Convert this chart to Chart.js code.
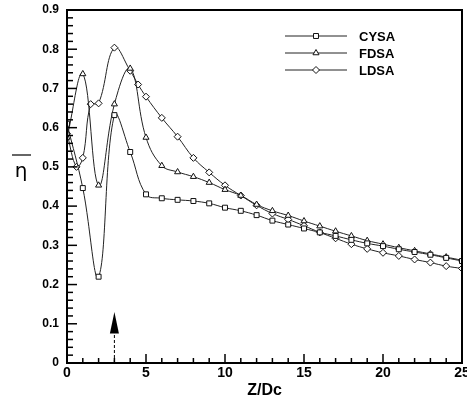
<!DOCTYPE html>
<html lang="en">
<head>
<meta charset="UTF-8">
<title>Eta vs Z/Dc</title>
<style>
  html, body { margin: 0; padding: 0; background: #ffffff; }
  .chart-box { width: 467px; height: 400px; position: relative; }
</style>
<script src="https://cdn.jsdelivr.net/npm/chart.js"></script>
</head>
<body>
<div class="chart-box"><canvas id="etaChart"></canvas></div>
<script>
// data
const cysaX = [0,1,2,3,4,5,6,7,8,9,10,11,12,13,14,15,16,17,18,19,20,21,22,23,24,25];
const cysaY = [0.61,0.446,0.22,0.632,0.538,0.43,0.42,0.416,0.413,0.407,0.396,0.388,0.377,0.363,0.353,0.343,0.333,0.324,0.314,0.305,0.298,0.290,0.283,0.276,0.268,0.26];

const fdsaX = [0,1,2,3,4,5,6,7,8,9,10,11,12,13,14,15,16,17,18,19,20,21,22,23,24,25];
const fdsaY = [0.575,0.737,0.453,0.66,0.751,0.575,0.503,0.487,0.475,0.46,0.442,0.427,0.404,0.388,0.376,0.362,0.349,0.336,0.324,0.312,0.303,0.294,0.286,0.278,0.270,0.262];

const ldsaX = [0,0.6,1,1.5,2,3,4,4.5,5,6,7,8,9,10,11,12,13,14,15,16,17,18,19,20,21,22,23,24,25];
const ldsaY = [0.585,0.50,0.523,0.66,0.662,0.804,0.745,0.71,0.679,0.625,0.577,0.523,0.486,0.453,0.427,0.402,0.381,0.366,0.350,0.333,0.318,0.303,0.291,0.281,0.273,0.264,0.256,0.247,0.241];

const seriesNames = ['CYSA', 'FDSA', 'LDSA'];
const seriesMarkers = ['rect', 'triangle', 'rectRot'];

const xTicks = [0, 5, 10, 15, 20, 25];
const yTicks = [0, 0.1, 0.2, 0.3, 0.4, 0.5, 0.6, 0.7, 0.8, 0.9];

// arrow at the bottom (x position, head tip, head base)
const arrowX = 3;
const arrowTip = 0.13;
const arrowBase = 0.075;

function toPoints(xs, ys) {
  return xs.map((x, i) => ({ x: x, y: ys[i] }));
}

function makeSet(i, xs, ys) {
  return {
    label: seriesNames[i],
    data: toPoints(xs, ys),
    showLine: true,
    borderColor: '#222',
    borderWidth: 1,
    tension: 0.4,
    pointStyle: seriesMarkers[i],
    pointRadius: 3.5,
    pointBorderWidth: 1,
    pointBorderColor: '#111',
    pointBackgroundColor: '#fff'
  };
}

// frame, inward ticks, arrow, legend and y title
const decorPlugin = {
  id: 'decor',
  afterDraw(chart) {
    const ctx = chart.ctx;
    const xs = chart.scales.x, ys = chart.scales.y;
    const a = chart.chartArea;
    ctx.save();
    ctx.strokeStyle = '#000';

    // ticks
    ctx.lineWidth = 1.5;
    for (let v = 0; v <= 25; v++) {
      const px = xs.getPixelForValue(v);
      const len = (v % 5 === 0) ? 9 : 5;
      ctx.beginPath();
      ctx.moveTo(px, a.bottom);
      ctx.lineTo(px, a.bottom - len);
      ctx.stroke();
    }
    for (let k = 0; k <= 45; k++) {
      const v = k * 0.02;
      const py = ys.getPixelForValue(v);
      const len = (k % 5 === 0) ? 10 : 6;
      ctx.beginPath();
      ctx.moveTo(a.left, py);
      ctx.lineTo(a.left + len, py);
      ctx.stroke();
    }

    // frame
    ctx.lineWidth = 2;
    ctx.strokeRect(a.left, a.top, a.right - a.left, a.bottom - a.top);

    // arrow
    const ax = xs.getPixelForValue(arrowX);
    const tipY = ys.getPixelForValue(arrowTip);
    const baseY = ys.getPixelForValue(arrowBase);
    ctx.lineWidth = 1;
    ctx.setLineDash([3, 2]);
    ctx.beginPath();
    ctx.moveTo(ax, a.bottom);
    ctx.lineTo(ax, baseY);
    ctx.stroke();
    ctx.setLineDash([]);
    ctx.fillStyle = '#000';
    ctx.beginPath();
    ctx.moveTo(ax, tipY);
    ctx.lineTo(ax - 4.5, baseY);
    ctx.lineTo(ax + 4.5, baseY);
    ctx.closePath();
    ctx.fill();

    // legend
    const rows = [36, 53, 70];
    chart.data.datasets.forEach((ds, i) => {
      const y = rows[i];
      ctx.strokeStyle = '#222';
      ctx.lineWidth = 1;
      ctx.beginPath();
      ctx.moveTo(285, y);
      ctx.lineTo(347, y);
      ctx.stroke();
      ctx.strokeStyle = '#111';
      ctx.fillStyle = '#fff';
      Chart.helpers.drawPoint(ctx, { pointStyle: ds.pointStyle, radius: 3.5, borderWidth: 1 }, 316, y);
      ctx.fillStyle = '#000';
      ctx.font = 'bold 13px "Liberation Sans", Arial, sans-serif';
      ctx.textAlign = 'left';
      ctx.textBaseline = 'middle';
      ctx.fillText(ds.label, 359, y + 1);
    });

    // y title: eta with a bar over it
    ctx.fillStyle = '#000';
    ctx.font = '20px "DejaVu Sans", sans-serif';
    ctx.textAlign = 'center';
    ctx.textBaseline = 'middle';
    ctx.fillText('\u03B7', 21, 172);
    ctx.strokeStyle = '#000';
    ctx.lineWidth = 1.2;
    ctx.beginPath();
    ctx.moveTo(12, 155);
    ctx.lineTo(31, 155);
    ctx.stroke();

    ctx.restore();
  }
};

new Chart(document.getElementById('etaChart'), {
  type: 'scatter',
  data: {
    datasets: [
      makeSet(0, cysaX, cysaY),
      makeSet(1, fdsaX, fdsaY),
      makeSet(2, ldsaX, ldsaY)
    ]
  },
  options: {
    responsive: true,
    maintainAspectRatio: false,
    animation: false,
    layout: { padding: { left: 0, top: 10, right: 3, bottom: 0 } },
    plugins: {
      legend: { display: false },
      tooltip: { enabled: false }
    },
    scales: {
      x: {
        type: 'linear',
        min: 0,
        max: 25,
        afterFit(scale) { scale.height = 37; scale.paddingLeft = 0; scale.paddingRight = 0; },
        afterBuildTicks(scale) { scale.ticks = xTicks.map(v => ({ value: v })); },
        grid: { display: false, drawTicks: false, tickLength: 0 },
        border: { display: false },
        ticks: {
          padding: 2,
          color: '#000',
          font: { family: '"Liberation Sans", Arial, sans-serif', size: 14, weight: 'bold' },
          callback: v => String(v)
        },
        title: {
          display: true,
          text: 'Z/Dc',
          color: '#000',
          padding: { top: 0, bottom: 0 },
          font: { family: '"Liberation Sans", Arial, sans-serif', size: 16, weight: 'bold' }
        }
      },
      y: {
        min: 0,
        max: 0.9,
        afterFit(scale) { scale.width = 67; scale.paddingTop = 0; scale.paddingBottom = 0; },
        afterBuildTicks(scale) { scale.ticks = yTicks.map(v => ({ value: v })); },
        grid: { display: false, drawTicks: false, tickLength: 0 },
        border: { display: false },
        ticks: {
          padding: 8,
          color: '#000',
          font: { family: '"Liberation Sans", Arial, sans-serif', size: 12, weight: 'bold' },
          callback: v => (v === 0 ? '0' : v.toFixed(1))
        }
      }
    }
  },
  plugins: [decorPlugin]
});
</script>
</body>
</html>
